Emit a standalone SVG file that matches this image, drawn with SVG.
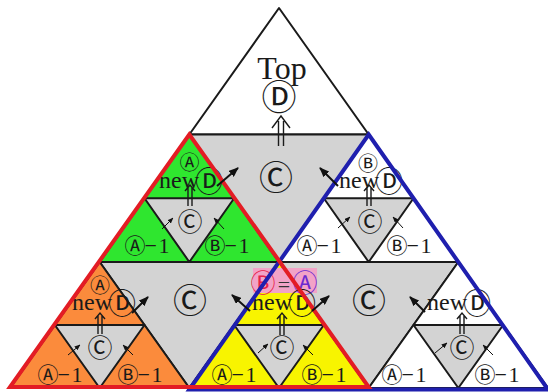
<svg xmlns="http://www.w3.org/2000/svg" width="548" height="392" viewBox="0 0 548 392">
<style>
.ln{stroke:#1a1a1a;stroke-width:2;stroke-linejoin:round}
.gray{fill:#d3d3d3}
.t{font-family:"Liberation Serif","DejaVu Serif",serif;fill:#1a1a1a;font-size:24px}
.s{font-size:22px}
.c{font-family:"Noto Sans CJK JP","DejaVu Sans",sans-serif}
.big{font-size:34px}
.ar{stroke:#111;stroke-width:2;fill:none;marker-end:url(#ah)}
.ars{stroke:#111;stroke-width:1;fill:none;marker-end:url(#ahs)}
.dbl{stroke:#1a1a1a;stroke-width:1.4;fill:none}
</style>
<defs>
<marker id="ah" viewBox="0 0 10 8" refX="9" refY="4" markerWidth="10" markerHeight="8" markerUnits="userSpaceOnUse" orient="auto"><path d="M0,0 L10,4 L0,8 z" fill="#111"/></marker>
<marker id="ahs" viewBox="0 0 10 8" refX="9" refY="4" markerWidth="6" markerHeight="5" markerUnits="userSpaceOnUse" orient="auto"><path d="M0,0 L10,4 L0,8 z" fill="#111"/></marker>
</defs>
<rect width="548" height="392" fill="#fff"/>

<g id="top">
<polygon points="279,8 189.33,134.5 368.67,134.5" fill="#fff" class="ln"/>
<text class="t" x="282" y="79" text-anchor="middle" style="font-size:32px">Top</text>
<text class="t c" x="279" y="110" text-anchor="middle" style="font-size:35px">Ⓓ</text>
</g>

<g id="g1">
<polygon points="189.33,134.5 368.67,134.5 279,262" class="gray ln"/>
<text class="t c big" x="276" y="190" text-anchor="middle">Ⓒ</text>
</g>
<g id="g2">
<polygon points="99.67,262 279,262 189.33,388" class="gray ln"/>
<text class="t c big" x="190" y="313" text-anchor="middle">Ⓒ</text>
</g>
<g id="g3">
<polygon points="279,262 458.33,262 368.67,388" class="gray ln"/>
<text class="t c big" x="369" y="313" text-anchor="middle">Ⓒ</text>
</g>

<g id="u1">
<polygon points="189.33,134.5 99.67,262 279,262" fill="#2fe62f" class="ln"/>
<polygon points="144.5,198.25 234.17,198.25 189.33,262" class="gray ln"/>
<text class="t c" x="189.5" y="169.5" text-anchor="middle" style="font-size:20px">Ⓐ</text>
<text class="t" x="159" y="188">new<tspan class="c" dx="-4" dy="4" style="font-size:28px">Ⓓ</tspan></text>
<text class="t c" x="190" y="230.5" text-anchor="middle" style="font-size:25px">Ⓒ</text>
<text class="t s" x="124.5" y="253"><tspan class="c" style="font-size:21px">Ⓐ</tspan><tspan dx="-1">−</tspan><tspan dx="1.5">1</tspan></text>
<text class="t s" x="204.5" y="253"><tspan class="c" style="font-size:21px">Ⓑ</tspan><tspan dx="-1">−</tspan><tspan dx="1.5">1</tspan></text>
</g>

<g id="u2">
<polygon points="368.67,134.5 279,262 458.33,262" fill="#fff" class="ln"/>
<polygon points="323.83,198.25 413.5,198.25 368.67,262" class="gray ln"/>
<text class="t c" x="368" y="170.5" text-anchor="middle" style="font-size:20px">Ⓑ</text>
<text class="t" x="339" y="188">new<tspan class="c" dx="-4" dy="4" style="font-size:28px">Ⓓ</tspan></text>
<text class="t c" x="370" y="230.5" text-anchor="middle" style="font-size:25px">Ⓒ</text>
<text class="t s" x="296.5" y="253"><tspan class="c" style="font-size:21px">Ⓐ</tspan><tspan dx="-1">−</tspan><tspan dx="1.5">1</tspan></text>
<text class="t s" x="386.5" y="253"><tspan class="c" style="font-size:21px">Ⓑ</tspan><tspan dx="-1">−</tspan><tspan dx="1.5">1</tspan></text>
</g>

<g id="u3">
<polygon points="99.67,262 10,388 189.33,388" fill="#fb8b3c" class="ln"/>
<polygon points="54.83,325 144.5,325 99.67,388" class="gray ln"/>
<text class="t c" x="100" y="292.5" text-anchor="middle" style="font-size:20px">Ⓐ</text>
<text class="t" x="72" y="310">new<tspan class="c" dx="-4" dy="4" style="font-size:28px">Ⓓ</tspan></text>
<text class="t c" x="100" y="356.5" text-anchor="middle" style="font-size:25px">Ⓒ</text>
<text class="t s" x="37.5" y="382"><tspan class="c" style="font-size:21px">Ⓐ</tspan><tspan dx="-1">−</tspan><tspan dx="1.5">1</tspan></text>
<text class="t s" x="117.5" y="382"><tspan class="c" style="font-size:21px">Ⓑ</tspan><tspan dx="-1">−</tspan><tspan dx="1.5">1</tspan></text>
</g>

<g id="u4">
<polygon points="279,262 189.33,388 368.67,388" fill="#f8f400" class="ln"/>
<polygon points="234.17,325 323.83,325 279,388" class="gray ln"/>
<rect x="253" y="268" width="64" height="25" fill="#f2a3c7"/>
<text class="t" y="292" text-anchor="middle"><tspan class="c" x="263" fill="#e8204a" style="font-size:25px">Ⓑ</tspan><tspan x="284" fill="#333" style="font-size:22px">=</tspan><tspan class="c" x="305" fill="#6a2ad0" style="font-size:25px">Ⓐ</tspan></text>
<text class="t" x="252" y="310">new<tspan class="c" dx="-4" dy="4" style="font-size:28px">Ⓓ</tspan></text>
<text class="t c" x="282" y="356.5" text-anchor="middle" style="font-size:25px">Ⓒ</text>
<text class="t s" x="211.5" y="382"><tspan class="c" style="font-size:21px">Ⓐ</tspan><tspan dx="-1">−</tspan><tspan dx="1.5">1</tspan></text>
<text class="t s" x="301.5" y="382"><tspan class="c" style="font-size:21px">Ⓑ</tspan><tspan dx="-1">−</tspan><tspan dx="1.5">1</tspan></text>
</g>

<g id="u5">
<polygon points="458.33,262 368.67,388 548,388" fill="#fff" class="ln"/>
<polygon points="413.5,325 503.17,325 458.33,388" class="gray ln"/>
<text class="t" x="427" y="310">new<tspan class="c" dx="-4" dy="4" style="font-size:28px">Ⓓ</tspan></text>
<text class="t c" x="462" y="356.5" text-anchor="middle" style="font-size:25px">Ⓒ</text>
<text class="t s" x="381.5" y="382"><tspan class="c" style="font-size:21px">Ⓐ</tspan><tspan dx="-1">−</tspan><tspan dx="1.5">1</tspan></text>
<text class="t s" x="474.5" y="382"><tspan class="c" style="font-size:21px">Ⓑ</tspan><tspan dx="-1">−</tspan><tspan dx="1.5">1</tspan></text>
</g>

<g id="outlines" fill="none" stroke-width="4" stroke-linejoin="miter">
<polygon points="368.67,134.5 548,389.5 189.33,389.5" stroke="#1f1fae"/>
<polygon points="189.33,134.5 10,387 368.67,387" stroke="#e31c24"/>
</g>

<g id="connectors">
<path class="ar" d="M217,186 L238,168"/>
<path class="ar" d="M338,186 L320,168"/>
<path class="ar" d="M132,313 L148,297"/>
<path class="ar" d="M250,311 L232,295"/>
<path class="ar" d="M312,311 L329,296"/>
<path class="ar" d="M425,312 L410,297"/>
<path class="ars" d="M162,229 L173,218"/>
<path class="ars" d="M224,229 L214,218"/>
<path class="ars" d="M338,228 L350,217"/>
<path class="ars" d="M403,228 L393,217"/>
<path class="ars" d="M68,355 L80,345"/>
<path class="ars" d="M133,355 L123,345"/>
<path class="ars" d="M258,353 L268,344"/>
<path class="ars" d="M313,355 L303,345"/>
<path class="ars" d="M435,353 L447,343"/>
<path class="ars" d="M493,355 L483,345"/>
<path class="dbl" d="M272,128 L281,116 L290,128 M278.5,121 V146 M283.5,121 V146"/>
<path class="dbl" d="M185,191 L190,185 L195,191 M188,188 V206 M192,188 V206"/>
<path class="dbl" d="M364,191 L369,185 L374,191 M367,188 V206 M371,188 V206"/>
<path class="dbl" d="M95,319 L100,313 L105,319 M98,316 V334 M102,316 V334"/>
<path class="dbl" d="M277,319 L282,313 L287,319 M280,316 V335 M284,316 V335"/>
<path class="dbl" d="M457,319 L462,313 L467,319 M460,316 V334 M464,316 V334"/>
</g>
</svg>
